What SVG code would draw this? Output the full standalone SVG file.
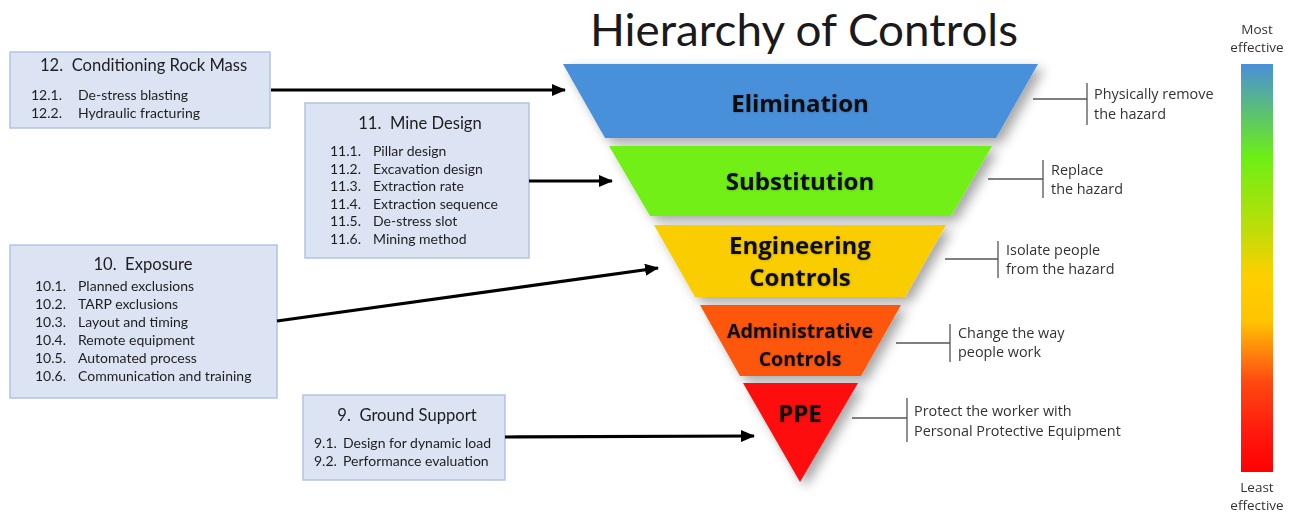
<svg xmlns="http://www.w3.org/2000/svg" width="1292" height="513" viewBox="0 0 1292 513">
  <style>
    .box { fill: #dce3f2; stroke: #b1c3e3; stroke-width: 1.5; }
    .bt { font-family: Lato, "Liberation Sans", sans-serif; font-size: 16.6px; fill: #1e1e1e; white-space: pre; }
    .bi { font-family: Lato, "Liberation Sans", sans-serif; font-size: 14px; fill: #1e1e1e; }
    .lvl { font-family: "Open Sans", Lato, sans-serif; font-weight: 700; fill: #111; text-anchor: middle; }
    .note { font-family: "Open Sans", "Liberation Sans", sans-serif; font-size: 14.4px; fill: #333; }
    .brace { stroke: #555; stroke-width: 1.3; fill: none; }
    .arrow { stroke: #000; stroke-width: 3.2; fill: none; marker-end: url(#head); }
    .scale { font-family: "Open Sans", "Liberation Sans", sans-serif; font-size: 13.5px; fill: #333; text-anchor: middle; }
  </style>
  <defs>
    <marker id="head" markerUnits="userSpaceOnUse" markerWidth="14" markerHeight="12" refX="13" refY="6" orient="auto">
      <path d="M0,0 L14,6 L0,12 Z" fill="#000"/>
    </marker>
    <filter id="shade" x="-10%" y="-10%" width="125%" height="125%">
      <feDropShadow dx="6" dy="5" stdDeviation="6" flood-color="#000" flood-opacity="0.35"/>
    </filter>
    <filter id="glow" x="-10%" y="-30%" width="120%" height="160%">
      <feDropShadow dx="0.5" dy="0.5" stdDeviation="1" flood-color="#000" flood-opacity="0.22"/>
    </filter>
    <linearGradient id="effect" x1="0" y1="0" x2="0" y2="1">
      <stop offset="0" stop-color="#4a8fd8"/>
      <stop offset="0.23" stop-color="#6def14"/>
      <stop offset="0.42" stop-color="#c4dc08"/>
      <stop offset="0.52" stop-color="#ffcf00"/>
      <stop offset="0.63" stop-color="#ffc400"/>
      <stop offset="0.70" stop-color="#ff8a0c"/>
      <stop offset="0.78" stop-color="#ff4810"/>
      <stop offset="0.90" stop-color="#ff1a0e"/>
      <stop offset="1" stop-color="#ff0000"/>
    </linearGradient>
  </defs>

  <rect width="1292" height="513" fill="#fff"/>

  <!-- title -->
  <text x="804" y="46" text-anchor="middle" font-family="Lato, 'Open Sans', sans-serif" font-size="45" fill="#1a1a1a" textLength="428" lengthAdjust="spacingAndGlyphs">Hierarchy of Controls</text>

  <!-- inverted pyramid of control levels -->
  <g id="pyramid" filter="url(#shade)">
    <g id="elimination">
      <polygon points="563,64 1038,64 996,138 605,138" fill="#4a90da"/>
      <text class="lvl" x="800" y="112" font-size="24" filter="url(#glow)">Elimination</text>
    </g>
    <g id="substitution">
      <polygon points="609,146 992,146 951,216 650,216" fill="#72ef16"/>
      <text class="lvl" x="800" y="190" font-size="24" filter="url(#glow)">Substitution</text>
    </g>
    <g id="engineering">
      <polygon points="654,225 946,225 905,297 695,297" fill="#f9cd00"/>
      <text class="lvl" x="800" y="254" font-size="24" filter="url(#glow)">Engineering</text>
      <text class="lvl" x="800" y="286" font-size="24" filter="url(#glow)">Controls</text>
    </g>
    <g id="administrative">
      <polygon points="700,305 901,305 861,376 740,376" fill="#fd560a"/>
      <text class="lvl" x="800" y="338" font-size="19.6" filter="url(#glow)">Administrative</text>
      <text class="lvl" x="800" y="366" font-size="19.6" filter="url(#glow)">Controls</text>
    </g>
    <g id="ppe">
      <polygon points="743,383 858,383 800,482" fill="#fd1010"/>
      <text class="lvl" x="800" y="422" font-size="24" filter="url(#glow)">PPE</text>
    </g>
  </g>

  <!-- descriptions on the right -->
  <g id="notes">
    <g id="note-elimination">
      <path class="brace" d="M1033,99 H1087 M1087,83 V125"/>
      <text class="note" x="1094" y="99">Physically remove</text>
      <text class="note" x="1094" y="119">the hazard</text>
    </g>
    <g id="note-substitution">
      <path class="brace" d="M988,179 H1043 M1043,160 V198"/>
      <text class="note" x="1051" y="175">Replace</text>
      <text class="note" x="1051" y="194">the hazard</text>
    </g>
    <g id="note-engineering">
      <path class="brace" d="M945,259 H998 M998,241 V278"/>
      <text class="note" x="1006" y="255">Isolate people</text>
      <text class="note" x="1006" y="274">from the hazard</text>
    </g>
    <g id="note-administrative">
      <path class="brace" d="M896,343 H950 M950,324 V362"/>
      <text class="note" x="958" y="338">Change the way</text>
      <text class="note" x="958" y="357">people work</text>
    </g>
    <g id="note-ppe">
      <path class="brace" d="M852,418 H907 M907,398 V442"/>
      <text class="note" x="914" y="416">Protect the worker with</text>
      <text class="note" x="914" y="436">Personal Protective Equipment</text>
    </g>
  </g>

  <!-- effectiveness scale -->
  <g id="scale">
    <text class="scale" x="1257" y="34">Most</text>
    <text class="scale" x="1257" y="52">effective</text>
    <rect x="1241" y="64" width="32" height="408" fill="url(#effect)"/>
    <text class="scale" x="1257" y="492">Least</text>
    <text class="scale" x="1257" y="510">effective</text>
  </g>

  <!-- control boxes -->
  <g id="box12">
    <rect class="box" x="10" y="52" width="260" height="76"/>
    <text class="bt" x="40" y="71">12.  Conditioning Rock Mass</text>
    <text class="bi" x="31" y="100">12.1.</text><text class="bi" x="78" y="100">De-stress blasting</text>
    <text class="bi" x="31" y="118">12.2.</text><text class="bi" x="78" y="118">Hydraulic fracturing</text>
  </g>
  <g id="box11">
    <rect class="box" x="305" y="103" width="224" height="155"/>
    <text class="bt" x="420" y="129" text-anchor="middle">11.  Mine Design</text>
    <text class="bi" x="330" y="156">11.1.</text><text class="bi" x="373" y="156">Pillar design</text>
    <text class="bi" x="330" y="173.5">11.2.</text><text class="bi" x="373" y="173.5">Excavation design</text>
    <text class="bi" x="330" y="191">11.3.</text><text class="bi" x="373" y="191">Extraction rate</text>
    <text class="bi" x="330" y="208.5">11.4.</text><text class="bi" x="373" y="208.5">Extraction sequence</text>
    <text class="bi" x="330" y="226">11.5.</text><text class="bi" x="373" y="226">De-stress slot</text>
    <text class="bi" x="330" y="243.5">11.6.</text><text class="bi" x="373" y="243.5">Mining method</text>
  </g>
  <g id="box10">
    <rect class="box" x="10" y="245" width="267" height="153"/>
    <text class="bt" x="143" y="270" text-anchor="middle">10.  Exposure</text>
    <text class="bi" x="35" y="291">10.1.</text><text class="bi" x="78" y="291">Planned exclusions</text>
    <text class="bi" x="35" y="309">10.2.</text><text class="bi" x="78" y="309">TARP exclusions</text>
    <text class="bi" x="35" y="327">10.3.</text><text class="bi" x="78" y="327">Layout and timing</text>
    <text class="bi" x="35" y="345">10.4.</text><text class="bi" x="78" y="345">Remote equipment</text>
    <text class="bi" x="35" y="363">10.5.</text><text class="bi" x="78" y="363">Automated process</text>
    <text class="bi" x="35" y="381">10.6.</text><text class="bi" x="78" y="381">Communication and training</text>
  </g>
  <g id="box9">
    <rect class="box" x="303" y="395" width="202" height="85"/>
    <text class="bt" x="407" y="421" text-anchor="middle">9.  Ground Support</text>
    <text class="bi" x="314" y="448">9.1.</text><text class="bi" x="343" y="448">Design for dynamic load</text>
    <text class="bi" x="314" y="466">9.2.</text><text class="bi" x="343" y="466">Performance evaluation</text>
  </g>

  <!-- connectors from boxes to control levels -->
  <g id="connectors">
    <line class="arrow" x1="271" y1="90" x2="565" y2="90"/>
    <line class="arrow" x1="529" y1="181" x2="612" y2="181"/>
    <line class="arrow" x1="277" y1="321" x2="658" y2="268"/>
    <line class="arrow" x1="505" y1="437" x2="754" y2="436"/>
  </g>
</svg>
